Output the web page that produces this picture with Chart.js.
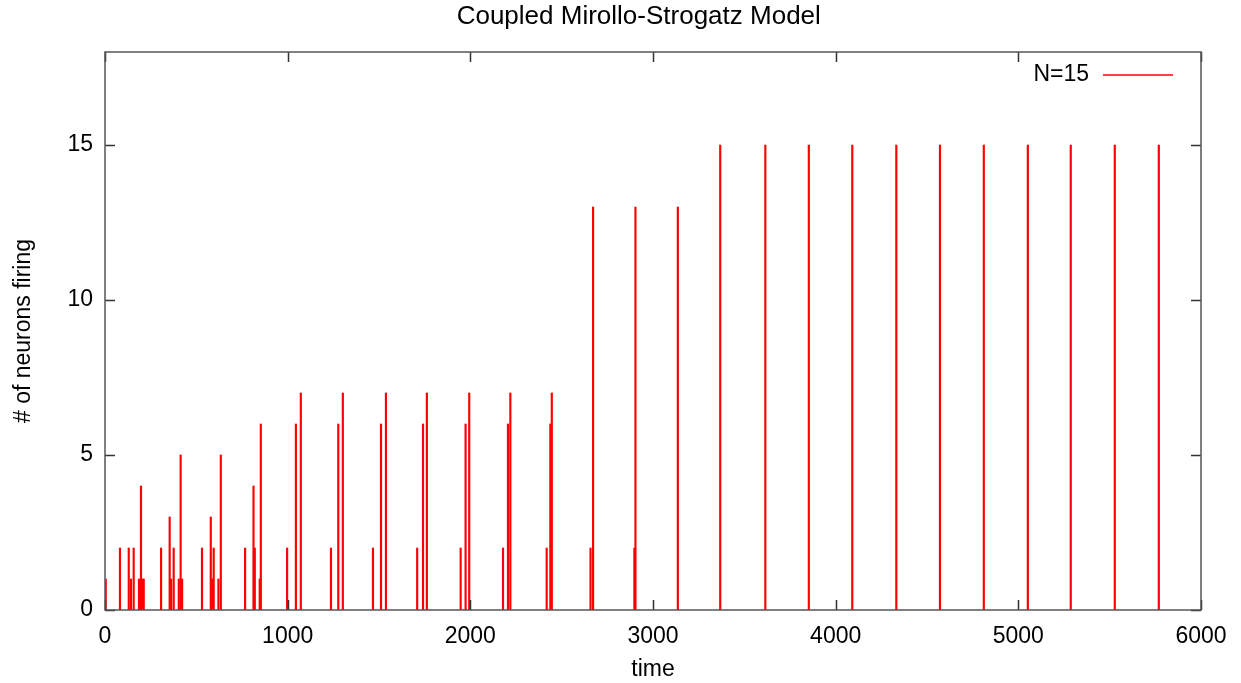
<!DOCTYPE html>
<html>
<head>
<meta charset="utf-8">
<title>Coupled Mirollo-Strogatz Model</title>
<script src="https://cdn.jsdelivr.net/npm/chart.js@4.4.1/dist/chart.umd.min.js"></script>
<style>
  html, body { margin: 0; padding: 0; background: #fff; }
  canvas { display: block; }
</style>
</head>
<body>
<canvas id="firingChart" width="1241" height="683"></canvas>
<script>
// Firing events: time of each event and how many neurons fired together
const fireTimes = [
    4, 82, 130, 142, 157, 186, 197, 206, 212, 307, 354, 362, 376, 404, 414, 422,
    531, 579, 585, 590, 595, 621, 634, 767, 813, 820, 847, 853, 997,
    1045, 1072, 1237, 1277, 1302, 1467, 1511, 1538, 1709, 1741, 1762,
    1947, 1974, 1994, 2179, 2206, 2219, 2418, 2438, 2446,
    2658, 2672, 2898, 2904, 3136,
    3368, 3615, 3853, 4091, 4332, 4571, 4811, 5052, 5287, 5528, 5769
];
const fireCounts = [
    1, 2, 2, 1, 2, 1, 4, 1, 1, 2, 3, 1, 2, 1, 5, 1,
    2, 3, 1, 1, 2, 1, 5, 2, 4, 2, 1, 6, 2,
    6, 7, 2, 6, 7, 2, 6, 7, 2, 6, 7,
    2, 6, 7, 2, 6, 7, 2, 6, 7,
    2, 13, 2, 13, 13,
    15, 15, 15, 15, 15, 15, 15, 15, 15, 15, 15
];
const xTicks = [0, 1000, 2000, 3000, 4000, 5000, 6000];
const yTicks = [0, 5, 10, 15];

const TITLE = 'Coupled Mirollo-Strogatz Model';
const FONT = "'Liberation Sans', Arial, sans-serif";
const RED = '#ff0000';

// gnuplot-like frame: title, border, inward ticks on all four sides, key in the top right
const framePlugin = {
    id: 'frame',
    afterDatasetsDraw(chart) {
        const { ctx, chartArea: a, scales: { x, y } } = chart;
        const len = 10;
        ctx.save();

        ctx.fillStyle = '#000';
        ctx.font = '26px ' + FONT;
        ctx.textAlign = 'center';
        ctx.textBaseline = 'middle';
        ctx.fillText(TITLE, a.left + (a.right - a.left) * 0.487, 17);

        ctx.strokeStyle = '#333';
        ctx.lineWidth = 1.5;
        ctx.beginPath();
        x.ticks.forEach(t => {
            const px = Math.round(x.getPixelForValue(t.value)) + 0.5;
            ctx.moveTo(px, a.bottom); ctx.lineTo(px, a.bottom - len);
            ctx.moveTo(px, a.top); ctx.lineTo(px, a.top + len);
        });
        y.ticks.forEach(t => {
            const py = Math.round(y.getPixelForValue(t.value)) + 0.5;
            ctx.moveTo(a.left, py); ctx.lineTo(a.left + len, py);
            ctx.moveTo(a.right, py); ctx.lineTo(a.right - len, py);
        });
        ctx.stroke();
        ctx.strokeStyle = '#555';
        ctx.strokeRect(a.left, a.top, a.right - a.left, a.bottom - a.top);

        // key
        const ds = chart.data.datasets[0];
        const ky = a.top + 23;
        ctx.font = '23px ' + FONT;
        ctx.textAlign = 'right';
        ctx.fillText(ds.label, a.right - 112, ky);
        ctx.strokeStyle = ds.borderColor;
        ctx.lineWidth = 1.5;
        ctx.beginPath();
        ctx.moveTo(a.right - 98, ky);
        ctx.lineTo(a.right - 28, ky);
        ctx.stroke();
        ctx.restore();
    }
};

new Chart(document.getElementById('firingChart'), {
    type: 'bar',
    data: {
        datasets: [{
            label: 'N=15',
            data: fireTimes.map((t, i) => ({ x: t, y: fireCounts[i] })),
            backgroundColor: RED,
            borderColor: RED,
            borderWidth: 0,
            barThickness: 1.5,
            grouped: false
        }]
    },
    options: {
        responsive: false,
        animation: false,
        devicePixelRatio: 1,
        layout: { padding: { top: 52, right: 40, bottom: 0, left: 0 } },
        plugins: {
            legend: { display: false },
            tooltip: { enabled: false },
            title: { display: false }
        },
        scales: {
            x: {
                type: 'linear',
                min: 0,
                max: 6000,
                offset: false,
                afterBuildTicks: s => { s.ticks = xTicks.map(v => ({ value: v })); },
                afterFit: s => { s.height = 73; },
                grid: { display: false, drawTicks: false },
                border: { display: false },
                ticks: {
                    color: '#000',
                    padding: 13,
                    maxRotation: 0,
                    font: { family: FONT, size: 23 },
                    callback: v => String(v)
                },
                title: {
                    display: true,
                    text: 'time',
                    color: '#000',
                    font: { family: FONT, size: 23 },
                    padding: { top: 0, bottom: 0 }
                }
            },
            y: {
                min: 0,
                max: 18,
                afterBuildTicks: s => { s.ticks = yTicks.map(v => ({ value: v })); },
                afterFit: s => { s.width = 105; },
                grid: { display: false, drawTicks: false },
                border: { display: false },
                ticks: {
                    color: '#000',
                    padding: 12,
                    font: { family: FONT, size: 23 },
                    callback: v => String(v)
                },
                title: {
                    display: true,
                    text: '# of neurons firing',
                    color: '#000',
                    font: { family: FONT, size: 23 },
                    padding: { top: 10, bottom: 0 }
                }
            }
        }
    },
    plugins: [framePlugin]
});
</script>
</body>
</html>
